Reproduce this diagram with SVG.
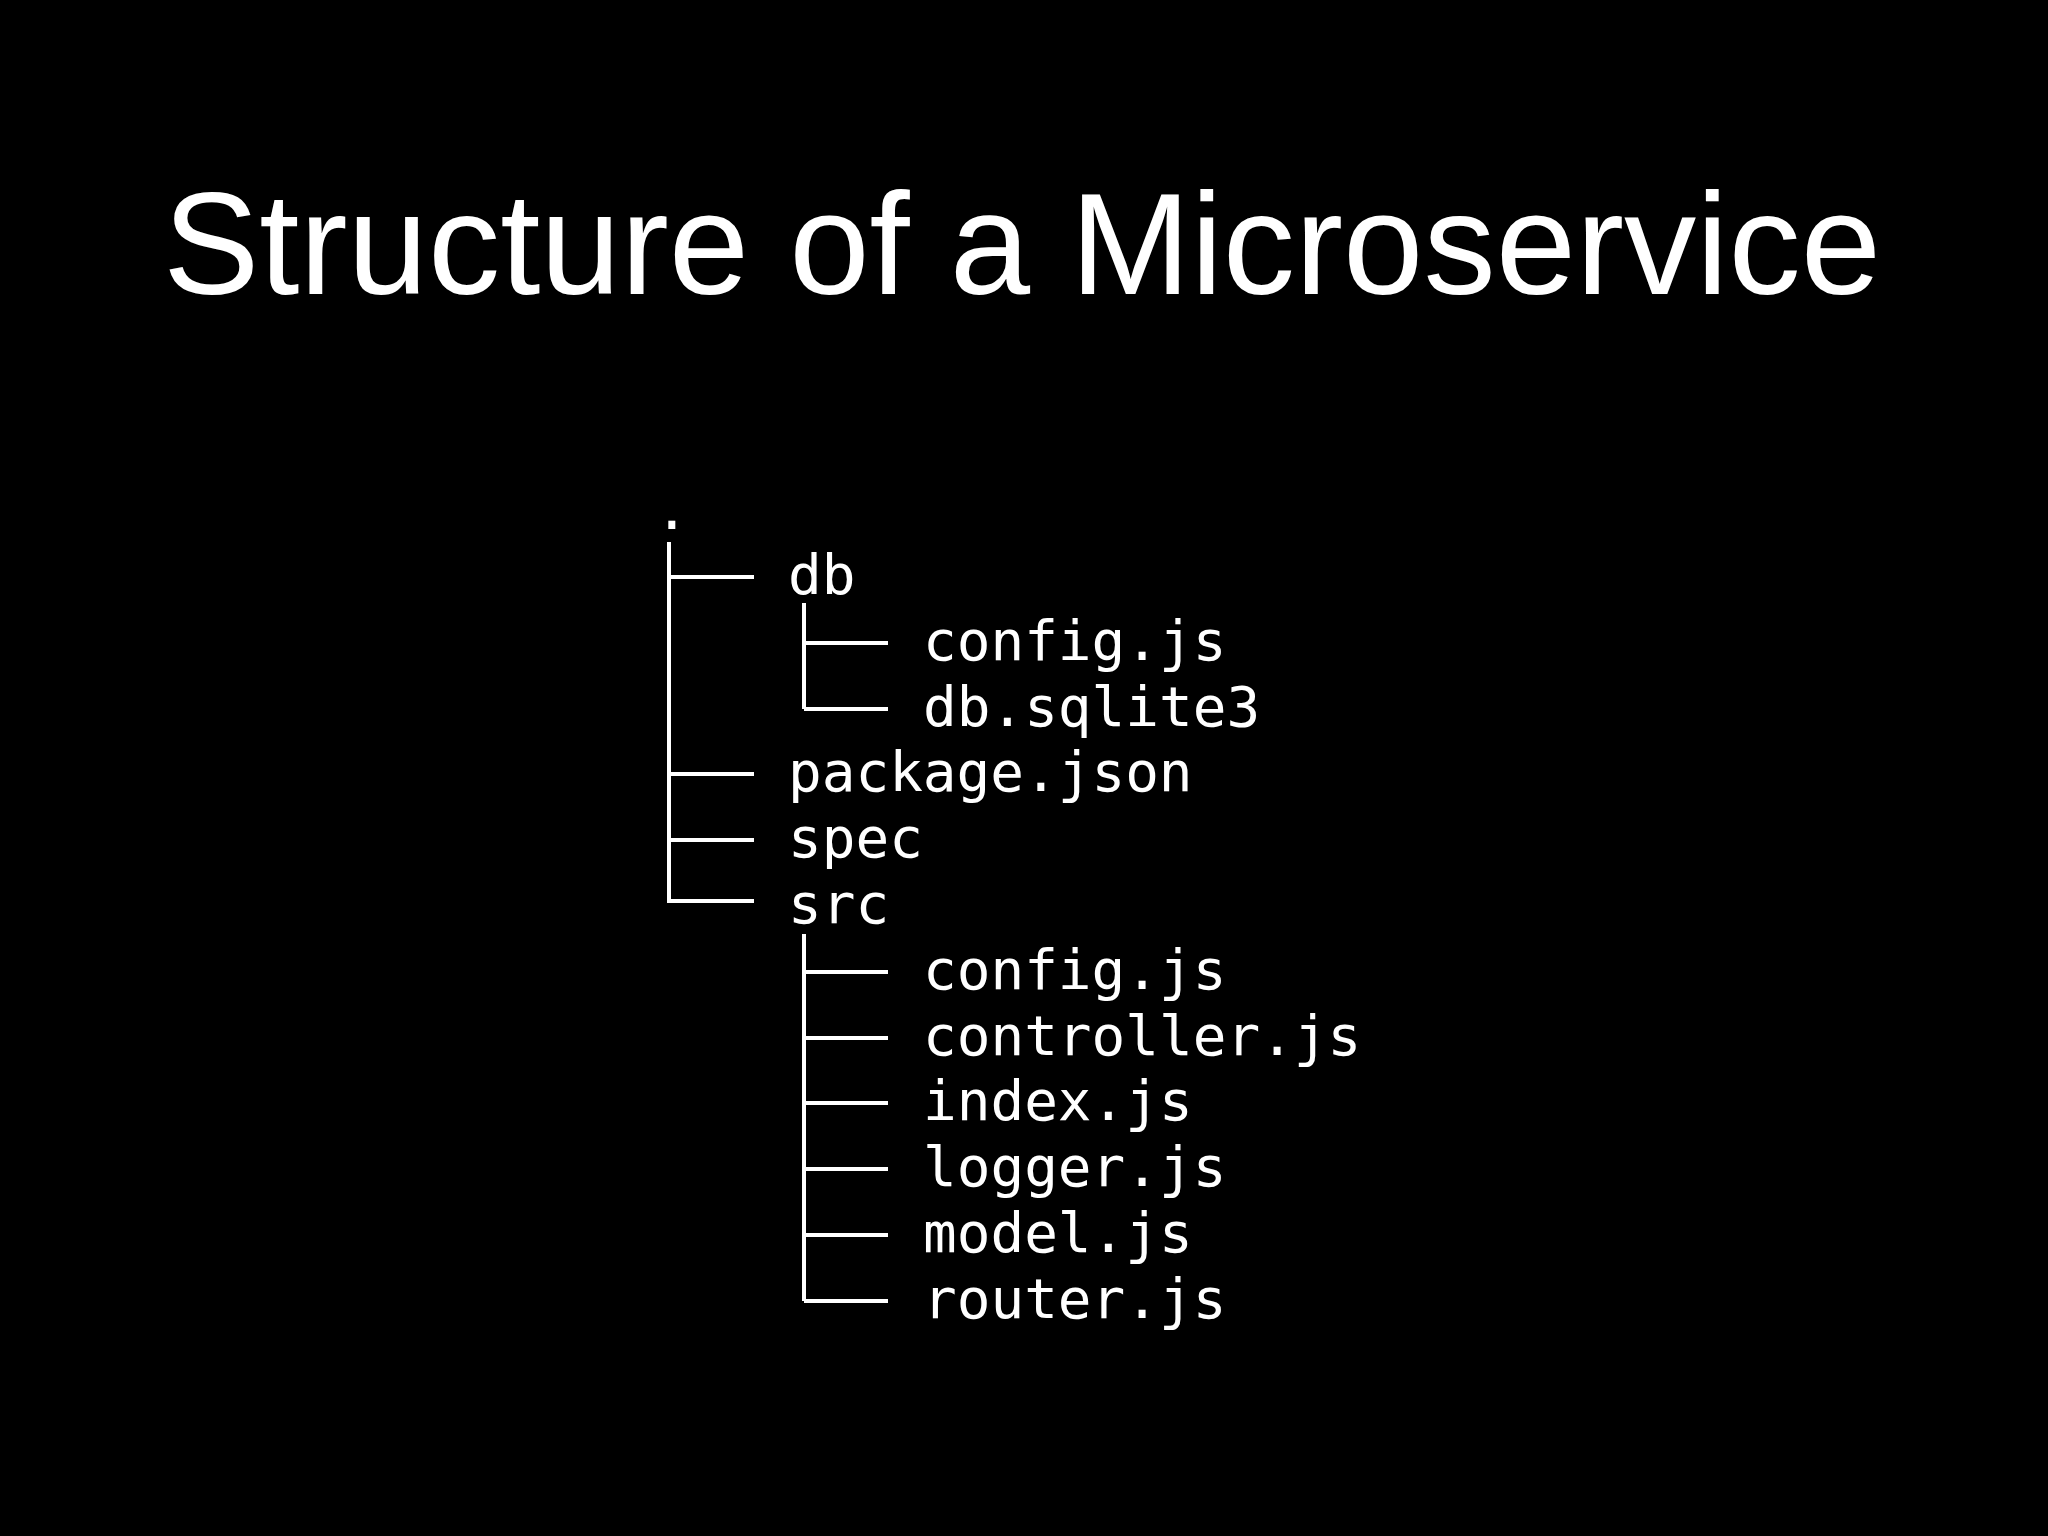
<svg xmlns="http://www.w3.org/2000/svg" width="2048" height="1536" viewBox="0 0 2048 1536">
<style>
.t{font-family:"DejaVu Sans Mono",monospace;font-size:56px;fill:#fff}
.l{stroke:#fff;stroke-width:4;fill:none}
</style>
<rect width="2048" height="1536" fill="#000"/>
<text x="1022" y="294" text-anchor="middle" font-family="Liberation Sans, Arial, sans-serif" font-size="144" fill="#fff" textLength="1718" lengthAdjust="spacingAndGlyphs">Structure of a Microservice</text>
<g id="connectors">
<path class="l" d="M669 542V903M669 577H754M669 774H754M669 840H754M669 901H754"/>
<path class="l" d="M804 603V709M804 643H888M804 709H888"/>
<path class="l" d="M804 934V1301M804 972H888M804 1038H888M804 1103H888M804 1169H888M804 1235H888M804 1301H888"/>
</g>
<g id="root"><text class="t" x="655" y="529">.</text></g>
<g id="db"><text class="t" x="788" y="594">db</text></g>
<g id="db-config"><text class="t" x="923" y="660">config.js</text></g>
<g id="db-sqlite"><text class="t" x="923" y="726">db.sqlite3</text></g>
<g id="package"><text class="t" x="788" y="791">package.json</text></g>
<g id="spec"><text class="t" x="788" y="857">spec</text></g>
<g id="src"><text class="t" x="788" y="923">src</text></g>
<g id="src-config"><text class="t" x="923" y="989">config.js</text></g>
<g id="controller"><text class="t" x="923" y="1055">controller.js</text></g>
<g id="index"><text class="t" x="923" y="1120">index.js</text></g>
<g id="logger"><text class="t" x="923" y="1186">logger.js</text></g>
<g id="model"><text class="t" x="923" y="1252">model.js</text></g>
<g id="router"><text class="t" x="923" y="1318">router.js</text></g>
</svg>
